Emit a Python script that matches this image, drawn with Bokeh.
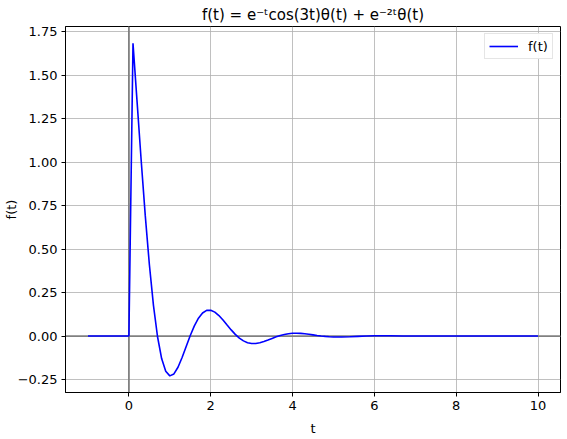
from bokeh.plotting import figure
from bokeh.models import Span, Range1d, FixedTicker, Legend, LegendItem
from bokeh.embed import file_html
from bokeh.resources import INLINE

t_vals = [-1.0, -0.5, 0.0, 0.1, 0.2, 0.3, 0.4, 0.5, 0.6, 0.7, 0.8, 0.9, 1.0,
          1.1, 1.2, 1.3, 1.4, 1.5, 1.6, 1.7, 1.8, 1.9, 2.0,
          2.1, 2.2, 2.3, 2.4, 2.5, 2.6, 2.7, 2.8, 2.9, 3.0,
          3.1, 3.2, 3.3, 3.4, 3.5, 3.6, 3.7, 3.8, 3.9, 4.0,
          4.1, 4.2, 4.3, 4.4, 4.5, 4.6, 4.7, 4.8, 4.9, 5.0,
          5.2, 5.4, 5.6, 5.8, 6.0, 6.2, 6.4, 6.7, 7.0, 8.0, 9.0, 10.0]
f_vals = [0.0, 0.0, 0.0, 1.683, 1.346, 1.009, 0.692, 0.411, 0.1765, -0.0041, -0.1294, -0.2023, -0.2289,
          -0.2179, -0.1794, -0.1235, -0.0601, 0.0028, 0.0585, 0.1025, 0.1322, 0.1473, 0.1482,
          0.1375, 0.1176, 0.0919, 0.0634, 0.0352, 0.0095, -0.0119, -0.0279, -0.0383, -0.0429,
          -0.0427, -0.0385, -0.0314, -0.0228, -0.0135, -0.0046, 0.0031, 0.0091, 0.0130, 0.0158,
          0.0163, 0.0152, 0.0131, 0.0101, 0.0068, 0.0035, 0.0005, -0.0020, -0.0039, -0.0051,
          -0.0055, -0.0041, -0.0019, 0.0000, 0.0016, 0.0020, 0.0016, 0.0005, 0.0, 0.0, 0.0, 0.0]

x_ticks = [0, 2, 4, 6, 8, 10]
y_ticks = [-0.25, 0.0, 0.25, 0.5, 0.75, 1.0, 1.25, 1.5, 1.75]
y_tick_labels = ["\u22120.25", "0.00", "0.25", "0.50", "0.75", "1.00", "1.25", "1.50", "1.75"]

title_text = "f(t) = e\u207b\u1d57cos(3t)\u03b8(t) + e\u207b\u00b2\u1d57\u03b8(t)"

p = figure(width=563, height=438, output_backend="svg", toolbar_location=None,
           x_range=Range1d(-1.55, 10.55), y_range=Range1d(-0.3245, 1.779),
           min_border_left=64, min_border_right=3, min_border_top=26, min_border_bottom=43)

p.title.text = title_text
p.title.align = "center"
p.title.text_font = "DejaVu Sans"
p.title.text_font_size = "15px"
p.title.text_font_style = "normal"
p.title.text_color = "black"
p.title.standoff = 5

r = p.line(t_vals, f_vals, line_color="blue", line_width=1.6)

p.add_layout(Span(location=0, dimension="width", line_color="gray", line_width=1.8, level="underlay"))
p.add_layout(Span(location=0, dimension="height", line_color="gray", line_width=1.8, level="underlay"))

p.xaxis.ticker = FixedTicker(ticks=x_ticks)
p.yaxis.ticker = FixedTicker(ticks=y_ticks)
p.yaxis.major_label_overrides = {v: s for v, s in zip(y_ticks, y_tick_labels)}
p.xaxis.major_label_overrides = {v: str(v) for v in x_ticks}

for ax in (p.xaxis, p.yaxis):
    ax.major_label_text_font = "DejaVu Sans"
    ax.major_label_text_font_size = "13px"
    ax.major_label_text_color = "black"
    ax.axis_label_text_font = "DejaVu Sans"
    ax.axis_label_text_font_size = "13px"
    ax.axis_label_text_font_style = "normal"
    ax.axis_label_text_color = "black"
    ax.axis_line_color = "black"
    ax.major_tick_line_color = "black"
    ax.major_tick_out = 4
    ax.major_tick_in = 0
    ax.minor_tick_line_color = None
    ax.major_label_standoff = 4

p.xaxis.axis_label_standoff = 8
p.yaxis.axis_label_standoff = -4

p.xaxis.axis_label = "t"
p.yaxis.axis_label = "f(t)"

p.xgrid.grid_line_color = "#b0b0b0"
p.ygrid.grid_line_color = "#b0b0b0"
p.xgrid.grid_line_width = 0.8
p.ygrid.grid_line_width = 0.8
p.outline_line_color = "black"
p.outline_line_width = 1

legend = Legend(items=[LegendItem(label="f(t)", renderers=[r])], location="top_right")
legend.label_text_font = "DejaVu Sans"
legend.label_text_font_size = "13px"
legend.label_text_color = "black"
legend.border_line_color = "#cccccc"
legend.glyph_width = 29
legend.glyph_height = 16
legend.padding = 4
legend.margin = 7
legend.spacing = 0
legend.label_standoff = 10
p.add_layout(legend)

open("out.html", "w").write(file_html(p, INLINE))
